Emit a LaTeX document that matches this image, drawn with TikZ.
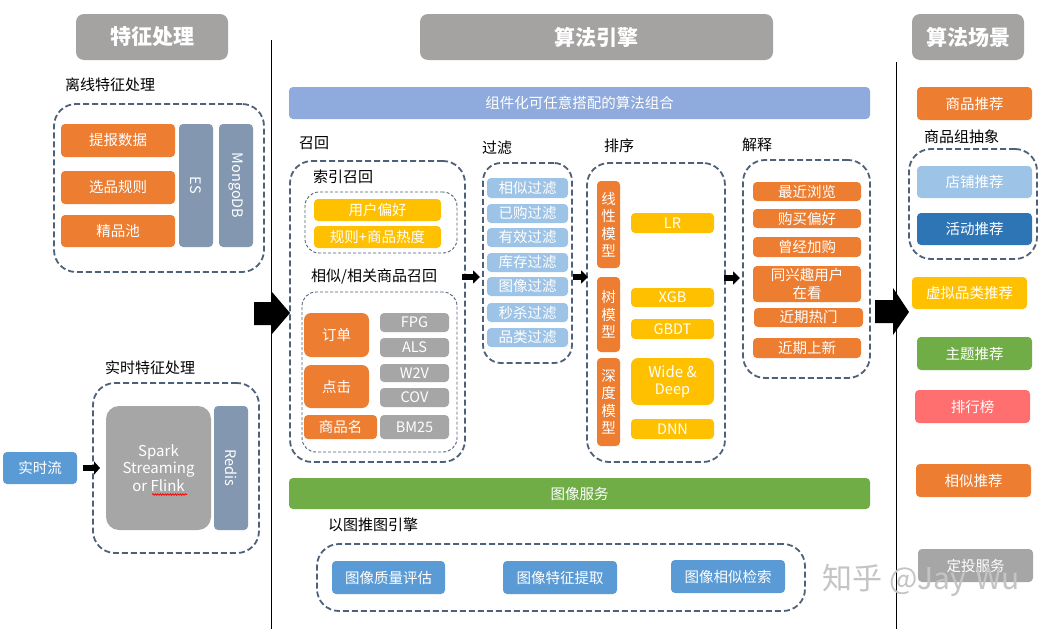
\documentclass[tikz,border=0pt]{standalone}
\usepackage{fontspec}
\setmainfont{Noto Sans CJK SC}
\usetikzlibrary{arrows.meta,decorations.pathmorphing}
\definecolor{cOrange}{HTML}{ED7D31}
\definecolor{cYel}{HTML}{FFC000}
\definecolor{cGry}{HTML}{A6A6A6}
\definecolor{cHead}{HTML}{A5A3A2}
\definecolor{cSlate}{HTML}{8497B0}
\definecolor{cLb}{HTML}{9DC3E6}
\definecolor{cBl}{HTML}{5B9BD5}
\definecolor{cDb}{HTML}{2E75B6}
\definecolor{cGreen}{HTML}{70AD47}
\definecolor{cPink}{HTML}{FF6F6F}
\definecolor{cBar}{HTML}{8FAADC}
\definecolor{cDash}{HTML}{4F6178}
\definecolor{cWm}{HTML}{C4C4C4}
\newcommand\fsz[2]{\fontsize{#1}{#2}\selectfont}
\newcommand\mkbox[6]{\node[#1, minimum width={(#4)-(#2)}, minimum height={(#5)-(#3)}] (#6) at ({((#2)+(#4))/2},{((#3)+(#5))/2})}
\begin{document}
\begin{tikzpicture}[x=1pt,y=-1pt,
  bx/.style={rounded corners=4pt, inner sep=0pt, outer sep=0pt, text=white, align=center, font=\fsz{14.5}{17.5}},
  sHdr/.style={bx, fill=cHead, rounded corners=8pt, font=\fsz{21}{25}\bfseries},
  sOr/.style={bx, fill=cOrange},
  sYel/.style={bx, fill=cYel},
  sGry/.style={bx, fill=cGry},
  sSl/.style={bx, fill=cSlate},
  sLb/.style={bx, fill=cLb},
  sBl/.style={bx, fill=cBl},
  sDb/.style={bx, fill=cDb},
  sGr/.style={bx, fill=cGreen},
  sPk/.style={bx, fill=cPink},
  sBar/.style={bx, fill=cBar},
  dbox/.style={draw=cDash, line width=1.8pt, dash pattern=on 6pt off 3pt, rounded corners=22pt, inner sep=0pt, outer sep=0pt},
  tbox/.style={draw=cDash, line width=0.9pt, dash pattern=on 3pt off 2pt, rounded corners=14pt, inner sep=0pt, outer sep=0pt},
  lbl/.style={anchor=west, inner sep=0pt, font=\fsz{15}{18}, text=black},
  sarrow/.style={line width=5.5pt, -{Triangle[length=7pt,width=13pt]}, black},
  vline/.style={line width=1pt, black}
]
\useasboundingbox (0,0) rectangle (1049,629);
\fill[white] (0,0) rectangle (1049,629);

% headers
\mkbox{sHdr}{76}{14}{228}{60}{h1} {特征处理};
\mkbox{sHdr}{420}{14}{773}{60}{h2} {算法引擎};
\mkbox{sHdr}{912}{14}{1024}{60}{h3} {算法场景};

% vertical separators
\draw[vline] (271,40) -- (271,629);
\draw[vline] (896,62) -- (896,629);

% ===== left: offline =====
\node[lbl] (lOff) at (65,85) {离线特征处理};
\mkbox{dbox}{54}{104}{264}{272}{offbox} {};
\mkbox{sOr}{61}{124}{175}{157}{tb} {提报数据};
\mkbox{sOr}{61}{171}{175}{204}{xp} {选品规则};
\mkbox{sOr}{61}{215}{175}{247}{jp} {精品池};
\node[sSl, rotate=-90, minimum width=123, minimum height=34] (es) at (196,185.5) {ES};
\node[sSl, rotate=-90, minimum width=123, minimum height=34] (mongo) at (236,185.5) {MongoDB};

% ===== left: realtime =====
\node[lbl] (lRt) at (105,368) {实时特征处理};
\mkbox{dbox}{93}{383}{259}{553}{rtbox} {};
\mkbox{sGry, rounded corners=13pt, font=\fsz{15}{17.5}}{106}{406}{211}{530}{spark} {Spark\\Streaming\\or Flink};
\draw[red, line width=0.7pt, decorate, decoration={snake, amplitude=0.8pt, segment length=2.5pt}] (152,494.5) -- (187,494.5);
\node[sSl, rotate=-90, minimum width=124, minimum height=34] (redis) at (231,468) {Redis};
\mkbox{sBl}{3}{452}{77}{484}{rts} {实时流};
\draw[line width=6pt, -{Triangle[length=6pt,width=13pt]}, black] ([xshift=6]rts.east) -- ([xshift=7]rtbox.west);

% big arrows
\fill[black] (254,302) -- (272,302) -- (272,292) -- (290,313) -- (272,334) -- (272,325) -- (254,325) -- cycle;
\fill[black] (875,300) -- (893,300) -- (893,288) -- (909,312) -- (893,335) -- (893,323) -- (875,323) -- cycle;

% ===== center =====
\mkbox{sBar}{289}{87}{870}{119}{bar} {组件化可任意搭配的算法组合};

% recall
\node[lbl] (lRecall) at (299,143) {召回};
\mkbox{dbox}{290}{161}{465}{462}{recall} {};
\node[lbl] (lIdx) at (313,177) {索引召回};
\mkbox{tbox}{305}{192}{457}{253}{idxbox} {};
\mkbox{sYel}{314}{199}{441}{221}{yh} {用户偏好};
\mkbox{sYel}{314}{226}{441}{248}{gz} {规则+商品热度};
\node[lbl] (lSim) at (311,277) {相似/相关商品召回};
\mkbox{tbox}{302}{292}{457}{452}{simbox} {};
\mkbox{sOr, rounded corners=7pt}{304}{313}{369}{357}{dd} {订单};
\mkbox{sOr, rounded corners=7pt}{304}{365}{369}{408}{dj} {点击};
\mkbox{sOr}{304}{415}{377}{439}{spm} {商品名};
\mkbox{sGry}{380}{313}{449}{332}{fpg} {FPG};
\mkbox{sGry}{380}{338}{449}{357}{als} {ALS};
\mkbox{sGry}{380}{364}{449}{382}{wtv} {W2V};
\mkbox{sGry}{380}{388}{449}{407}{cov} {COV};
\mkbox{sGry}{380}{415}{449}{439}{bm} {BM25};

% filter
\node[lbl] (lFil) at (482,148) {过滤};
\node[dbox, rounded corners=18pt, minimum width=89, minimum height=200] (filter) at (527.5,263) {};
\mkbox{sLb}{487}{178}{568}{198}{f1} {相似过滤};
\mkbox{sLb}{487}{204}{568}{223}{f2} {已购过滤};
\mkbox{sLb}{487}{228}{568}{247}{f3} {有效过滤};
\mkbox{sLb}{487}{253}{568}{272}{f4} {库存过滤};
\mkbox{sLb}{487}{277}{568}{296}{f5} {图像过滤};
\mkbox{sLb}{487}{303}{568}{322}{f6} {秒杀过滤};
\mkbox{sLb}{487}{328}{568}{347}{f7} {品类过滤};

% sort
\node[lbl] (lSort) at (604,146) {排序};
\mkbox{dbox}{587}{163}{725}{462}{sort} {};
\mkbox{sOr}{597}{181}{620}{268}{xx} {线\\性\\模\\型};
\mkbox{sOr}{597}{277}{620}{352}{smx} {树\\模\\型};
\mkbox{sOr}{597}{358}{620}{446}{sdx} {深\\度\\模\\型};
\mkbox{sYel}{631}{213}{714}{233}{lr} {LR};
\mkbox{sYel}{631}{288}{714}{307}{xgb} {XGB};
\mkbox{sYel}{631}{319}{714}{339}{gbdt} {GBDT};
\mkbox{sYel, rounded corners=7pt}{631}{358}{714}{405}{wd} {\fsz{15}{19}Wide \&\\Deep};
\mkbox{sYel}{631}{419}{714}{439}{dnn} {DNN};

% explain
\node[lbl] (lExp) at (742,145) {解释};
\mkbox{dbox}{743}{160}{870}{378}{explain} {};
\mkbox{sOr}{753}{182}{861}{201}{e1} {最近浏览};
\mkbox{sOr}{753}{209}{861}{228}{e2} {购买偏好};
\mkbox{sOr}{753}{237}{861}{257}{e3} {曾经加购};
\mkbox{sOr}{753}{266}{861}{302}{e4} {\fsz{14.5}{18}同兴趣用户\\在看};
\mkbox{sOr}{754}{308}{863}{327}{e5} {近期热门};
\mkbox{sOr}{753}{338}{861}{358}{e6} {近期上新};

% stage arrows
\draw[sarrow] ([xshift=-3]recall.east |- 0,277) -- ([xshift=-3]filter.west |- 0,277);
\draw[sarrow] ([xshift=1]filter.east |- 0,277) -- ([xshift=1]sort.west |- 0,277);
\draw[sarrow] ([xshift=-1]sort.east |- 0,278) -- ([xshift=-3]explain.west |- 0,278);

% image service
\mkbox{sGr}{289}{478}{870}{509}{imgsvc} {图像服务};
\node[lbl] (lImg) at (328,525) {以图推图引擎};
\mkbox{dbox}{317}{544}{805}{611}{imgbox} {};
\mkbox{sBl}{332}{561}{445}{594}{i1} {图像质量评估};
\mkbox{sBl}{503}{561}{617}{594}{i2} {图像特征提取};
\mkbox{sBl}{671}{560}{785}{593}{i3} {图像相似检索};

% ===== right =====
\mkbox{sOr}{917}{87}{1032}{120}{r1} {商品推荐};
\node[lbl] (lGrp) at (924,137) {商品组抽象};
\mkbox{dbox}{909}{149}{1037}{259}{grp} {};
\mkbox{sLb}{917}{166}{1032}{198}{r2} {店铺推荐};
\mkbox{sDb}{917}{213}{1032}{245}{r3} {活动推荐};
\mkbox{sYel}{912}{277}{1027}{309}{r4} {虚拟品类推荐};
\mkbox{sGr}{917}{337}{1032}{370}{r5} {主题推荐};
\mkbox{sPk}{915}{390}{1030}{423}{r6} {排行榜};
\mkbox{sOr}{916}{464}{1031}{497}{r7} {相似推荐};
\mkbox{sGry}{918}{549}{1033}{582}{r8} {定投服务};

% watermark
\node[inner sep=0pt, font=\fsz{30}{36}, text=cWm] (wm) at (921,580) {知乎 @Jay\hspace{0.3em}Wu};
\end{tikzpicture}
\end{document}
